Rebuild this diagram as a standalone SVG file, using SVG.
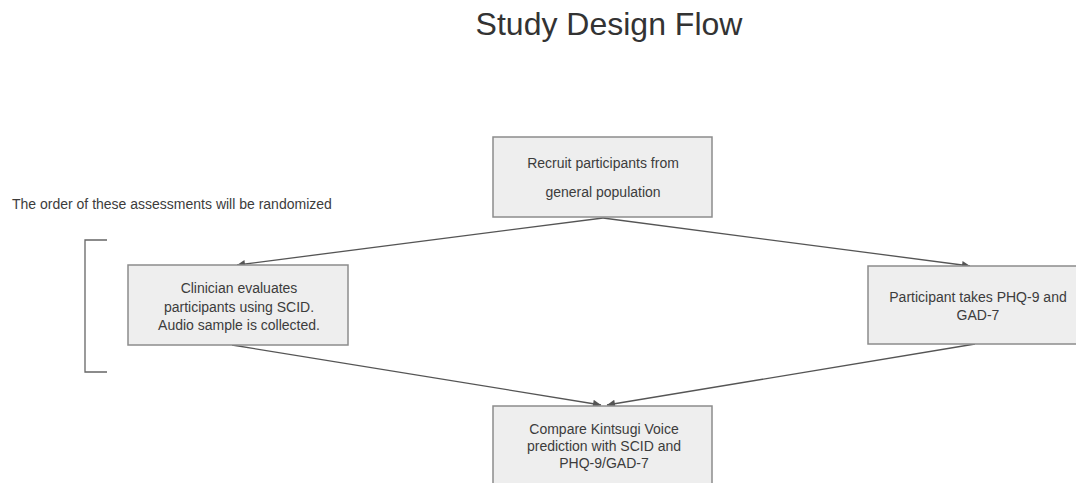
<svg xmlns="http://www.w3.org/2000/svg" width="1076" height="483" viewBox="0 0 1076 483">
<style>
.box{fill:#eeeeee;stroke:#8c8c8c;stroke-width:1.5}
.t{font-family:"Liberation Sans",Arial,sans-serif;font-size:14px;fill:#3c3c3c;text-anchor:middle}
.c{fill:none;stroke:#555555;stroke-width:1.3}
</style>
<defs>
<marker id="ah" viewBox="0 0 10 10" refX="10" refY="5" markerWidth="10" markerHeight="8" markerUnits="userSpaceOnUse" orient="auto">
<path d="M0,0 L10,5 L0,10 Z" fill="#555555"/>
</marker>
</defs>
<rect width="1076" height="483" fill="#ffffff"/>
<text x="609" y="35" font-family="'Liberation Sans',Arial,sans-serif" font-size="32" fill="#333333" text-anchor="middle">Study Design Flow</text>
<text x="12" y="209" font-family="'Liberation Sans',Arial,sans-serif" font-size="14" fill="#3c3c3c">The order of these assessments will be randomized</text>
<path d="M107,240 H85 V372 H107" fill="none" stroke="#666666" stroke-width="1.3"/>
<g id="connectors">
<path class="c" d="M603,218 L237,265" marker-end="url(#ah)"/>
<path class="c" d="M603,218 L970,266" marker-end="url(#ah)"/>
<path class="c" d="M232,345 L601,405" marker-end="url(#ah)"/>
<path class="c" d="M975,344 L607,405" marker-end="url(#ah)"/>
</g>
<g id="recruit">
<rect class="box" x="493" y="137" width="219" height="80"/>
<text class="t" x="603" y="168">Recruit participants from</text>
<text class="t" x="603" y="197">general population</text>
</g>
<g id="clinician">
<rect class="box" x="128" y="265" width="220" height="80"/>
<text class="t" x="239" y="293">Clinician evaluates</text>
<text class="t" x="239" y="312">participants using SCID.</text>
<text class="t" x="239" y="330">Audio sample is collected.</text>
</g>
<g id="participant">
<rect class="box" x="868" y="266" width="220" height="78"/>
<text class="t" x="978" y="302">Participant takes PHQ-9 and</text>
<text class="t" x="978" y="320">GAD-7</text>
</g>
<g id="compare">
<rect class="box" x="493" y="406" width="219" height="90"/>
<text class="t" x="604" y="434">Compare Kintsugi Voice</text>
<text class="t" x="604" y="451">prediction with SCID and</text>
<text class="t" x="604" y="468">PHQ-9/GAD-7</text>
</g>
</svg>
